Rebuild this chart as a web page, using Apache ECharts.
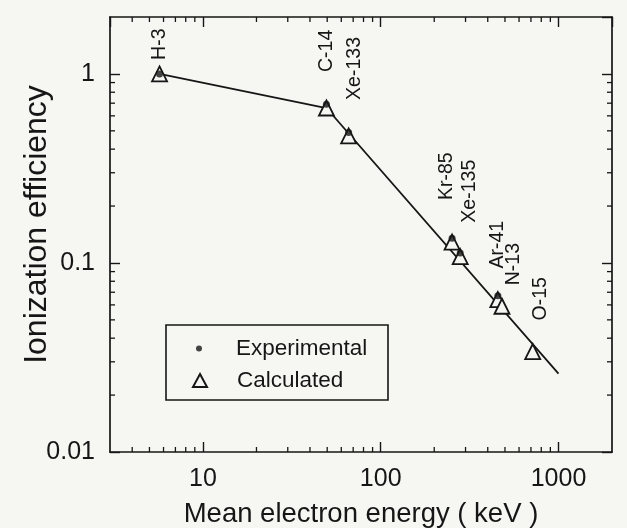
<!DOCTYPE html>
<html>
<head>
<meta charset="utf-8">
<title>Ionization efficiency</title>
<script src="https://cdn.jsdelivr.net/npm/echarts@6/dist/echarts.min.js"></script>
<style>
  html, body { margin: 0; padding: 0; background: #f6f6f3; }
  #chart { width: 627px; height: 528px; }
</style>
</head>
<body>
<div id="chart"></div>
<script>
// calculated points (open triangles)
const nuclides = ['H-3', 'C-14', 'Xe-133', 'Kr-85', 'Xe-135', 'Ar-41', 'N-13', 'O-15'];
const meanEnergy = [5.7, 49.5, 66, 252, 280, 456, 481, 716];
const calculated = [1.0, 0.66, 0.47, 0.129, 0.108, 0.064, 0.059, 0.034];

// experimental points (filled dots)
const expEnergy = [5.7, 49.5, 66, 252, 280, 456];
const experimental = [1.0, 0.69, 0.49, 0.135, 0.113, 0.067];

// fitted line
const fitEnergy = [5.7, 49.5, 1000];
const fitEfficiency = [1.0, 0.66, 0.026];

const xMin = 3, xMax = 2000;
const yMin = 0.01, yMax = 2;

const FONT = '"Liberation Sans", Arial, sans-serif';
const INK = '#161616';
const PAPER = '#f6f6f3';

// screen shift [dx, dy] of each rotated nuclide label from its triangle
const labelShift = {
  'H-3': [0, -14],
  'C-14': [0, -36],
  'Xe-133': [6, -36],
  'Kr-85': [-5, -42],
  'Xe-135': [9, -34],
  'Ar-41': [0, -31],
  'N-13': [12, -21],
  'O-15': [8, -31]
};

const isDecade = (v) => Math.abs(Math.log10(v) - Math.round(Math.log10(v))) < 1e-6;

const chart = echarts.init(document.getElementById('chart'));

const baseAxis = {
  type: 'log',
  logBase: 10,
  axisLine: { show: true, lineStyle: { color: INK, width: 1.7 } },
  axisTick: { show: true, inside: true, length: 10, lineStyle: { color: INK, width: 1.4 } },
  splitLine: { show: false }
};

const option = {
  backgroundColor: PAPER,
  animation: false,
  grid: { left: 110, top: 17, right: 15, bottom: 76, outerBoundsMode: 'none' },
  xAxis: [
    {
      ...baseAxis,
      min: xMin,
      max: xMax,
      position: 'bottom',
      name: 'Mean electron energy ( keV )',
      nameLocation: 'middle',
      nameGap: 48,
      nameTextStyle: { fontFamily: FONT, fontSize: 27.5, color: INK },
      axisLabel: {
        margin: 15,
        fontFamily: FONT,
        fontSize: 25,
        color: INK,
        showMinLabel: false,
        showMaxLabel: false,
        formatter: (v) => (isDecade(v) ? String(Math.round(v)) : '')
      }
    },
    {
      ...baseAxis,
      min: xMin,
      max: xMax,
      position: 'top',
      axisLabel: { show: false }
    }
  ],
  yAxis: [
    {
      ...baseAxis,
      min: yMin,
      max: yMax,
      position: 'left',
      name: 'Ionization efficiency',
      nameLocation: 'middle',
      nameMoveOverlap: false,
      nameGap: 57,
      nameTextStyle: { fontFamily: FONT, fontSize: 32, color: INK, padding: [0, 0, 0, 20] },
      axisLabel: {
        margin: 15,
        fontFamily: FONT,
        fontSize: 25,
        color: INK,
        showMaxLabel: false,
        formatter: (v) => (isDecade(v) ? String(+v.toPrecision(3)) : '')
      }
    },
    {
      ...baseAxis,
      min: yMin,
      max: yMax,
      position: 'right',
      axisLabel: { show: false }
    }
  ],
  legend: [
    {
      data: ['Experimental'],
      left: 196,
      top: 337,
      padding: 0,
      itemWidth: 6,
      itemHeight: 6,
      selectedMode: false,
      textStyle: { fontFamily: FONT, fontSize: 22.5, color: INK, padding: [0, 0, 0, 29] }
    },
    {
      data: ['Calculated'],
      left: 192,
      top: 369,
      padding: 0,
      itemWidth: 14,
      itemHeight: 13,
      selectedMode: false,
      textStyle: { fontFamily: FONT, fontSize: 22.5, color: INK, padding: [0, 0, 0, 25] }
    }
  ],
  series: [
    {
      name: 'fit',
      type: 'line',
      data: fitEnergy.map((x, i) => [x, fitEfficiency[i]]),
      showSymbol: false,
      silent: true,
      lineStyle: { color: INK, width: 1.8 },
      z: 1
    },
    {
      name: 'Calculated',
      type: 'scatter',
      symbol: 'triangle',
      symbolSize: 15,
      itemStyle: { color: PAPER, borderColor: INK, borderWidth: 1.8, opacity: 1 },
      data: nuclides.map((n, i) => ({
        name: n,
        value: [meanEnergy[i], calculated[i]],
        // offset is applied in the rotated label frame
        label: { offset: [-labelShift[n][1], labelShift[n][0]] }
      })),
      label: {
        show: true,
        position: 'inside',
        rotate: 90,
        align: 'left',
        verticalAlign: 'middle',
        formatter: (p) => p.name,
        fontFamily: FONT,
        fontSize: 19.5,
        color: INK
      },
      z: 2
    },
    {
      name: 'Experimental',
      type: 'scatter',
      symbol: 'circle',
      symbolSize: 7,
      itemStyle: { color: INK },
      data: expEnergy.map((x, i) => [x, experimental[i]]),
      z: 3
    }
  ]
};

chart.setOption(option);

// minor log ticks on all four sides, placed through the axes' own scales
function drawMinorTicks() {
  const px = (v) => chart.convertToPixel({ xAxisIndex: 0 }, v);
  const py = (v) => chart.convertToPixel({ yAxisIndex: 0 }, v);
  const left = px(xMin), right = px(xMax);
  const top = py(yMax), bottom = py(yMin);
  const len = 5;
  const style = { stroke: INK, lineWidth: 1.3 };
  const els = [];

  for (let d = 1; d <= 1000; d *= 10) {
    for (let m = 2; m <= 9; m++) {
      const v = d * m;
      if (v <= xMin || v >= xMax) continue;
      const x = px(v);
      els.push({ type: 'line', shape: { x1: x, y1: bottom, x2: x, y2: bottom - len }, style, silent: true });
      els.push({ type: 'line', shape: { x1: x, y1: top, x2: x, y2: top + len }, style, silent: true });
    }
  }
  for (let d = 0.01; d <= 1; d *= 10) {
    for (let m = 2; m <= 9; m++) {
      const v = d * m;
      if (v <= yMin || v >= yMax) continue;
      const y = py(v);
      els.push({ type: 'line', shape: { x1: left, y1: y, x2: left + len, y2: y }, style, silent: true });
      els.push({ type: 'line', shape: { x1: right, y1: y, x2: right - len, y2: y }, style, silent: true });
    }
  }

  // legend frame
  els.push({
    type: 'rect',
    shape: { x: 166, y: 325, width: 222, height: 75 },
    style: { fill: 'none', stroke: INK, lineWidth: 1.6 },
    silent: true,
    z: 10
  });

  chart.setOption({ graphic: { elements: els } });
}

drawMinorTicks();
</script>
</body>
</html>
